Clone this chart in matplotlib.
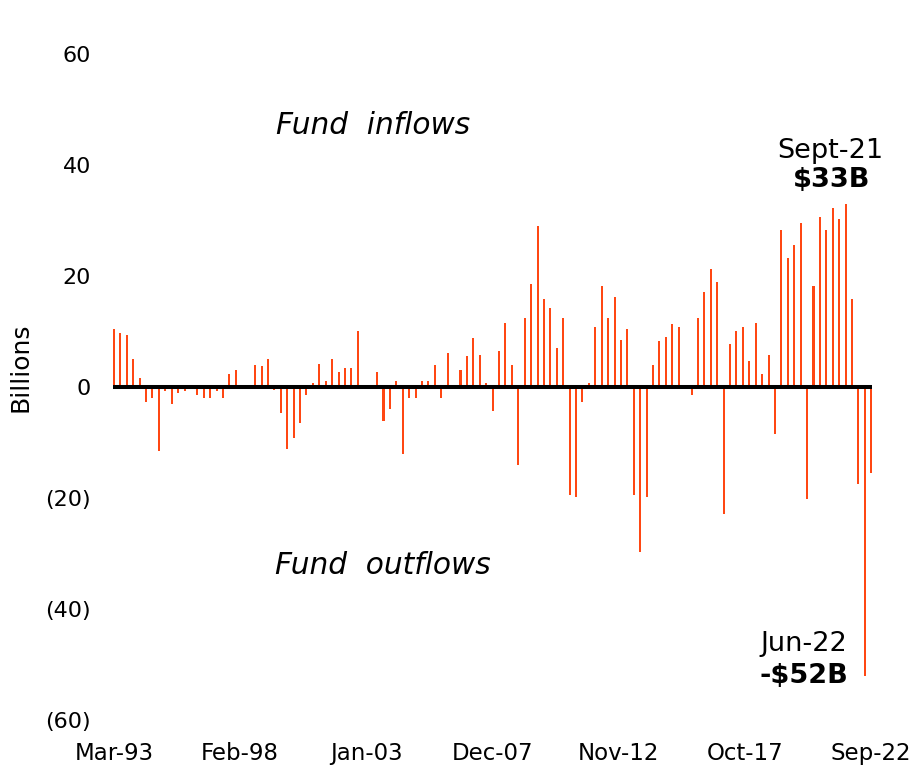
import matplotlib
matplotlib.use('Agg')
import matplotlib.pyplot as plt
import numpy as np

# quarterly fund flows, Mar-93 .. Sep-22 (billions)
flows = [10.5, 9.7, 9.3, 5.1, 1.6, -2.7, -1.9, -11.6, -0.7, -3.0,
         -1.1, -0.7, 0.2, -1.5, -1.9, -1.9, -0.8, -1.9, 2.3, 3.0,
         -0.2, 0.1, 3.9, 3.8, 5.0, -0.6, -4.7, -11.2, -9.2, -6.5,
         -1.5, 0.7, 4.2, 1.1, 5.0, 2.7, 3.4, 3.4, 10.1, 0.1,
         0.1, 2.7, -6.2, -3.9, 1.1, -12.0, -1.9, -1.9, 1.1, 1.1,
         3.9, -1.9, 6.2, 0.1, 3.1, 5.5, 8.9, 5.8, 0.7, -4.3,
         6.5, 11.6, 3.9, -14.0, 12.4, 18.6, 29.0, 15.9, 14.3, 7.0,
         12.4, -19.4, -19.8, -2.7, 0.7, 10.9, 18.2, 12.4, 16.3, 8.5,
         10.5, -19.4, -29.8, -19.8, 3.9, 8.2, 9.0, 11.3, 10.9, -0.2,
         -1.5, 12.4, 17.1, 21.3, 19.0, -22.8, 7.8, 10.1, 10.9, 4.7,
         11.6, 2.4, 5.8, -8.5, 28.3, 23.3, 25.6, 29.5, -20.1, 18.2,
         30.6, 28.3, 32.2, 30.2, 33.0, 15.9, -17.4, -52.0, -15.5]

# months since Mar-93
months = np.arange(len(flows)) * 3
tick_months = [0, 59, 118, 177, 236, 295, 354]
tick_labels = ['Mar-93', 'Feb-98', 'Jan-03', 'Dec-07', 'Nov-12', 'Oct-17', 'Sep-22']
y_ticks = [60, 40, 20, 0, -20, -40, -60]
y_labels = ['60', '40', '20', '0', '(20)', '(40)', '(60)']

fig = plt.figure(figsize=(9.13, 7.66), dpi=100)
ax = fig.add_axes([113.3 / 913, 46 / 766, 758.8 / 913, 666 / 766])

ax.bar(months, flows, width=0.95, color='#ff4713', zorder=2)
ax.axhline(0, color='black', lw=2.9, zorder=3)

ax.set_xlim(-0.3, 354.4)
ax.set_ylim(-60, 60)
ax.set_xticks(tick_months)
ax.set_xticklabels(tick_labels, fontsize=16.5)
ax.set_yticks(y_ticks)
ax.set_yticklabels(y_labels, fontsize=16)
ax.tick_params(length=0)
ax.tick_params(axis='x', pad=16)
ax.tick_params(axis='y', pad=16)
for s in ax.spines.values():
    s.set_visible(False)

ax.set_ylabel('Billions', fontsize=18)
ax.yaxis.set_label_coords(-0.106, 0.53)

ax.text(0.2144, 0.880, 'Fund  inflows', style='italic', fontsize=21.3,
        transform=ax.transAxes, va='baseline', ha='left')
ax.text(0.2130, 0.219, 'Fund  outflows', style='italic', fontsize=21.3,
        transform=ax.transAxes, va='baseline', ha='left')

ax.text(0.9445, 0.8438, 'Sept-21', fontsize=19.5, transform=ax.transAxes,
        va='baseline', ha='center')
ax.text(0.947, 0.8003, r'\$33B', fontsize=19.5, fontweight='bold',
        transform=ax.transAxes, va='baseline', ha='center')
ax.text(0.910, 0.1036, 'Jun-22', fontsize=19.5, transform=ax.transAxes,
        va='baseline', ha='center')
ax.text(0.910, 0.0556, r'-\$52B', fontsize=19.5, fontweight='bold',
        transform=ax.transAxes, va='baseline', ha='center')

fig.savefig('out.png', dpi=100)
